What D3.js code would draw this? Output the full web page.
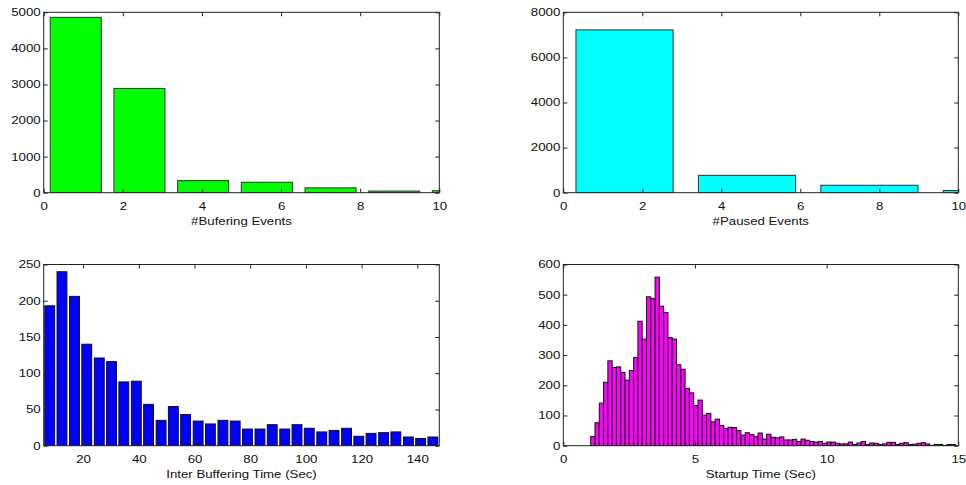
<!DOCTYPE html>
<html>
<head>
<meta charset="utf-8">
<script src="https://cdn.jsdelivr.net/npm/d3@7"></script>
<style>
  body { margin: 0; background: #fff; }
  svg text { font-family: "Liberation Sans", Arial, Helvetica, sans-serif; font-size: 10.6px; fill: #111; }
</style>
</head>
<body>
<svg id="chart" width="966" height="485"></svg>
<script>
// ---- data ----
const bufEventBins   = [0.81, 2.42, 4.03, 5.64, 7.25, 8.86, 10.47];
const bufEventCounts = [4860, 2890, 335, 290, 135, 45, 55];

const pauseEventBins   = [1.55, 4.65, 7.75, 10.85];
const pauseEventCounts = [7220, 770, 330, 95];

const interBufBins = [8.0, 12.4, 16.9, 21.3, 25.8, 30.2, 34.6, 39.1, 43.5, 48.0,
                      52.4, 56.8, 61.3, 65.7, 70.2, 74.6, 79.0, 83.5, 87.9, 92.4,
                      96.8, 101.2, 105.7, 110.1, 114.6, 119.0, 123.4, 127.9, 132.3, 136.8,
                      141.2, 145.6];
const interBufCounts = [193, 240, 206, 140, 121, 116, 88, 89, 57, 35,
                        54, 43, 34, 30, 35, 34, 23, 23, 29, 23,
                        29, 24, 19, 21, 24, 13, 17, 18, 19, 12,
                        10, 12];

// startup histogram: first bin edge + bin width (sec), then counts
const startupBinStart = 1.04;
const startupBinWidth = 0.163;
const startupCounts = [30, 76, 141, 210, 281, 259, 261, 243, 217, 249,
                       292, 412, 353, 493, 487, 558, 462, 441, 358, 353,
                       268, 253, 190, 175, 133, 151, 101, 107, 79, 88,
                       67, 57, 61, 60, 50, 35, 43, 37, 31, 42,
                       22, 38, 28, 26, 29, 19, 19, 21, 14, 22,
                       18, 14, 12, 14, 8, 12, 12, 8, 6, 6,
                       12, 4, 9, 14, 4, 9, 8, 4, 6, 11,
                       11, 4, 8, 10, 4, 5, 8, 10, 6, 1,
                       4, 4, 1, 4, 4];
const startupBins = startupCounts.map((d, i) => startupBinStart + startupBinWidth * (i + 0.5));

const svg = d3.select('#chart');
const sx = 1.25; // reference text is stretched horizontally

const drawPanel = (opt) => {
  const xScale = d3.scaleLinear().domain(opt.xDomain).range([opt.left, opt.right]);
  const yScale = d3.scaleLinear().domain(opt.yDomain).range([opt.bottom, opt.top]);
  const w = opt.right - opt.left, h = opt.bottom - opt.top;

  const clipId = 'clip-' + opt.id;
  svg.append('clipPath').attr('id', clipId)
    .append('rect').attr('x', opt.left).attr('y', opt.top).attr('width', w).attr('height', h);

  const bars = opt.bins.map((c, i) => ({ c: c, v: opt.counts[i] }));
  svg.append('g').attr('clip-path', `url(#${clipId})`)
    .selectAll('rect').data(bars).enter().append('rect')
      .attr('x', d => xScale(d.c - opt.barWidth / 2))
      .attr('width', d => xScale(d.c + opt.barWidth / 2) - xScale(d.c - opt.barWidth / 2))
      .attr('y', d => yScale(d.v))
      .attr('height', d => yScale(0) - yScale(d.v))
      .attr('fill', opt.fill)
      .attr('stroke', opt.stroke)
      .attr('stroke-width', 1);

  // bottom axis, ticks inward
  const xAxisG = svg.append('g').attr('transform', `translate(0,${opt.bottom})`)
    .call(d3.axisBottom(xScale).tickValues(opt.xTicks).tickFormat(d3.format('d'))
      .tickSizeInner(-4).tickSizeOuter(0).tickPadding(9.3));
  xAxisG.selectAll('.tick text').attr('transform', `scale(${sx},1)`);

  const yAxisG = svg.append('g').attr('transform', `translate(${opt.left},0)`)
    .call(d3.axisLeft(yScale).tickValues(opt.yTicks).tickFormat(d3.format('d'))
      .tickSizeInner(-4).tickSizeOuter(0).tickPadding(3));
  yAxisG.selectAll('.tick text').each(function () {
    const t = d3.select(this);
    t.attr('x', (+t.attr('x')) / sx).attr('transform', `scale(${sx},1)`);
  });

  // mirrored ticks on top and right
  svg.append('g').attr('transform', `translate(0,${opt.top})`)
    .call(d3.axisTop(xScale).tickValues(opt.xTicks).tickSizeInner(-4).tickSizeOuter(0).tickFormat(''));
  svg.append('g').attr('transform', `translate(${opt.right},0)`)
    .call(d3.axisRight(yScale).tickValues(opt.yTicks).tickSizeInner(-4).tickSizeOuter(0).tickFormat(''));

  svg.selectAll('.domain').remove();
  svg.selectAll('.tick line').attr('stroke', '#222');

  svg.append('rect')
    .attr('x', opt.left).attr('y', opt.top).attr('width', w).attr('height', h)
    .attr('fill', 'none').attr('stroke', '#222').attr('stroke-width', 1);

  svg.append('text')
    .attr('transform', `translate(${(opt.left + opt.right) / 2},${opt.bottom + 31.8}) scale(${sx},1)`)
    .attr('text-anchor', 'middle')
    .text(opt.label);
};

drawPanel({
  id: 'tl', left: 43.7, right: 439.3, top: 12.3, bottom: 192.7,
  xDomain: [0, 10], yDomain: [0, 5000],
  xTicks: [0, 2, 4, 6, 8, 10], yTicks: [0, 1000, 2000, 3000, 4000, 5000],
  bins: bufEventBins, counts: bufEventCounts, barWidth: 1.29,
  fill: '#00ff00', stroke: '#333', label: '#Bufering Events'
});

drawPanel({
  id: 'tr', left: 563.3, right: 958.3, top: 12.3, bottom: 192.7,
  xDomain: [0, 10], yDomain: [0, 8000],
  xTicks: [0, 2, 4, 6, 8, 10], yTicks: [0, 2000, 4000, 6000, 8000],
  bins: pauseEventBins, counts: pauseEventCounts, barWidth: 2.46,
  fill: '#00ffff', stroke: '#333', label: '#Paused Events'
});

drawPanel({
  id: 'bl', left: 43.7, right: 439.3, top: 264.5, bottom: 445.7,
  xDomain: [5.84, 147.9], yDomain: [0, 250],
  xTicks: [20, 40, 60, 80, 100, 120, 140], yTicks: [0, 50, 100, 150, 200, 250],
  bins: interBufBins, counts: interBufCounts, barWidth: 3.55,
  fill: '#0000ff', stroke: '#111', label: 'Inter Buffering Time (Sec)'
});

drawPanel({
  id: 'br', left: 563.3, right: 958.3, top: 264.5, bottom: 445.7,
  xDomain: [0, 15], yDomain: [0, 600],
  xTicks: [0, 5, 10, 15], yTicks: [0, 100, 200, 300, 400, 500, 600],
  bins: startupBins, counts: startupCounts, barWidth: startupBinWidth,
  fill: '#ff00ff', stroke: '#111', label: 'Startup Time (Sec)'
});
</script>
</body>
</html>
